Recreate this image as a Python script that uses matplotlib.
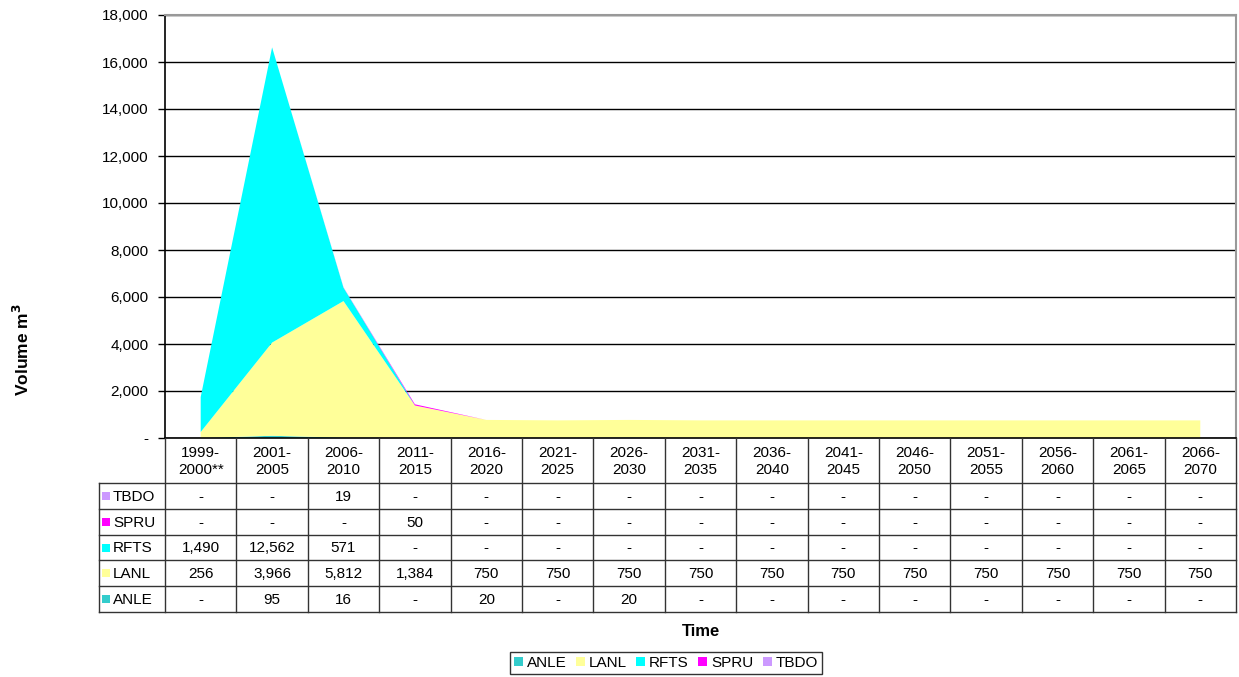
import matplotlib
matplotlib.use("Agg")
import matplotlib.pyplot as plt
from matplotlib.patches import Patch, Rectangle
from matplotlib.ticker import FuncFormatter
import numpy as np

plt.rcParams['font.family'] = ['Liberation Sans', 'DejaVu Sans']

# data
periods = ['1999-\n2000**', '2001-\n2005', '2006-\n2010', '2011-\n2015', '2016-\n2020',
           '2021-\n2025', '2026-\n2030', '2031-\n2035', '2036-\n2040', '2041-\n2045',
           '2046-\n2050', '2051-\n2055', '2056-\n2060', '2061-\n2065', '2066-\n2070']
anle = [0, 95, 16, 0, 20, 0, 20, 0, 0, 0, 0, 0, 0, 0, 0]
lanl = [256, 3966, 5812, 1384, 750, 750, 750, 750, 750, 750, 750, 750, 750, 750, 750]
rfts = [1490, 12562, 571, 0, 0, 0, 0, 0, 0, 0, 0, 0, 0, 0, 0]
spru = [0, 0, 0, 50, 0, 0, 0, 0, 0, 0, 0, 0, 0, 0, 0]
tbdo = [0, 0, 19, 0, 0, 0, 0, 0, 0, 0, 0, 0, 0, 0, 0]

series_names = ['ANLE', 'LANL', 'RFTS', 'SPRU', 'TBDO']
series_vals = [anle, lanl, rfts, spru, tbdo]
colors = ['#33CCCC', '#FFFF99', '#00FFFF', '#FF00FF', '#CC99FF']

W, H = 1239, 677
fig = plt.figure(figsize=(W / 100, H / 100), dpi=100)
fs = 11

# plot area in pixels
px0, px1 = 165, 1236
py_top, py_bot = 15, 438
ax = fig.add_axes([px0 / W, 1 - py_bot / H, (px1 - px0) / W, (py_bot - py_top) / H])

x = np.arange(len(periods))
ax.stackplot(x, *series_vals, colors=colors, linewidth=0)
ax.set_xlim(-0.5, len(periods) - 0.5)
ax.set_ylim(0, 18000)
ax.set_yticks(np.arange(0, 18001, 2000))
ax.yaxis.set_major_formatter(FuncFormatter(lambda v, p: '-' if v == 0 else f'{int(v):,}'))
ax.set_xticks([])
ax.tick_params(axis='y', labelsize=fs, length=5, width=1, direction='out', pad=7)
ax.grid(axis='y', color='black', linewidth=1)
ax.set_axisbelow(True)
for s in ['top', 'right']:
    ax.spines[s].set_color('#999999')
    ax.spines[s].set_linewidth(1.5)
ax.spines['left'].set_linewidth(1.2)
ax.spines['bottom'].set_linewidth(1.2)

# data table drawn in pixel coordinates
tax = fig.add_axes([0, 0, 1, 1])
tax.set_xlim(0, W)
tax.set_ylim(H, 0)
tax.axis('off')

tax.text(22, 350, 'Volume m$^\\mathbf{3}$', rotation=90, ha='center', va='center',
         fontsize=12.5, fontweight='bold')

colw = (px1 - px0) / len(periods)
lab_x0 = 99
head_bot = 483
row_h = 25.8
rows = list(reversed(range(len(series_names))))  # TBDO first
lc = '#333333'

# header
for i, p in enumerate(periods):
    tax.text(px0 + (i + 0.5) * colw, (py_bot + head_bot) / 2 + 1, p, ha='center', va='center',
             fontsize=fs, linespacing=1.3)
for i in range(len(periods) + 1):
    xx = px0 + i * colw
    tax.plot([xx, xx], [py_bot, head_bot + row_h * len(rows)], color=lc, lw=1)
tax.plot([lab_x0, lab_x0], [head_bot, head_bot + row_h * len(rows)], color=lc, lw=1)
for r in range(len(rows) + 1):
    yy = head_bot + r * row_h
    tax.plot([lab_x0, px1], [yy, yy], color=lc, lw=1)

for r, si in enumerate(rows):
    yc = head_bot + (r + 0.5) * row_h
    tax.add_patch(Rectangle((102, yc - 4), 8, 8, facecolor=colors[si], edgecolor='none'))
    tax.text(113, yc + 1, series_names[si], ha='left', va='center', fontsize=fs)
    for i, v in enumerate(series_vals[si]):
        tax.text(px0 + (i + 0.5) * colw, yc + 1, '-' if v == 0 else f'{v:,}',
                 ha='center', va='center', fontsize=fs)

tax.text((px0 + px1) / 2, 631, 'Time', ha='center', va='center', fontsize=12, fontweight='bold')

handles = [Patch(facecolor=c, edgecolor='none') for c in colors]
leg = fig.legend(handles, series_names, loc='center', bbox_to_anchor=(666 / W, 1 - 663 / H),
                 ncol=5, fontsize=fs, frameon=True, fancybox=False, handlelength=0.6,
                 handleheight=0.6, handletextpad=0.25, columnspacing=0.6, borderpad=0.25,
                 borderaxespad=0)
leg.get_frame().set_edgecolor('black')
leg.get_frame().set_linewidth(1)

fig.savefig('out.png', dpi=100)
